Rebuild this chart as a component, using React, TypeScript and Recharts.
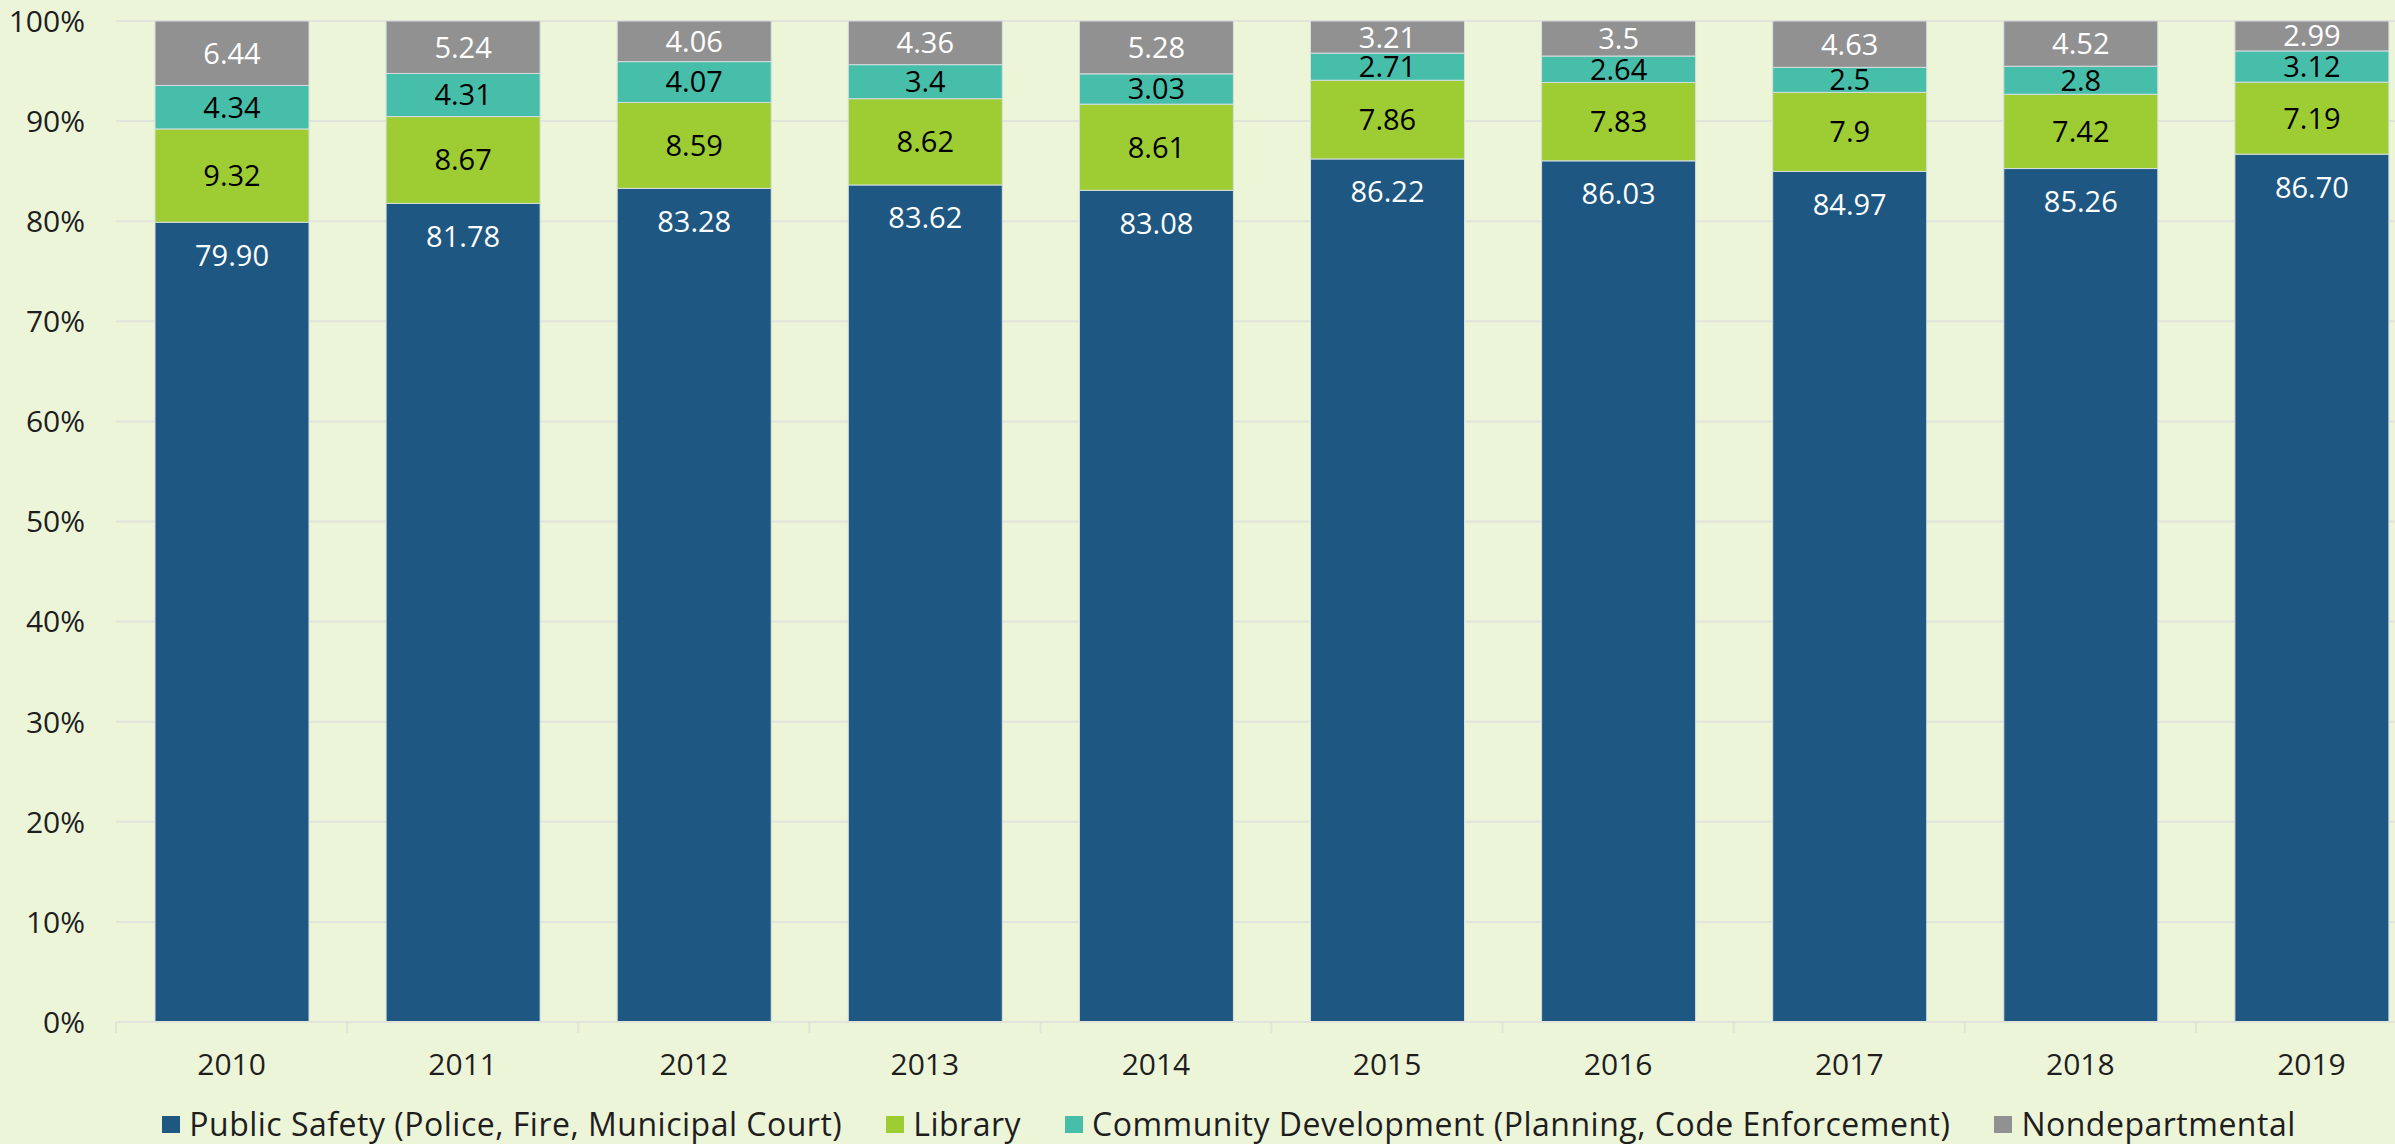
import React from "react";
import {
  Bar,
  BarChart,
  CartesianGrid,
  LabelList,
  Legend,
  XAxis,
  YAxis,
} from "recharts";

const years = ["2010", "2011", "2012", "2013", "2014", "2015", "2016", "2017", "2018", "2019"];
const publicSafety = [79.9, 81.78, 83.28, 83.62, 83.08, 86.22, 86.03, 84.97, 85.26, 86.7];
const library = [9.32, 8.67, 8.59, 8.62, 8.61, 7.86, 7.83, 7.9, 7.42, 7.19];
const communityDev = [4.34, 4.31, 4.07, 3.4, 3.03, 2.71, 2.64, 2.5, 2.8, 3.12];
const nondepartmental = [6.44, 5.24, 4.06, 4.36, 5.28, 3.21, 3.5, 4.63, 4.52, 2.99];
const yTicks = [0, 10, 20, 30, 40, 50, 60, 70, 80, 90, 100];

const data = years.map((year, i) => ({
  year,
  publicSafety: publicSafety[i],
  library: library[i],
  communityDev: communityDev[i],
  nondepartmental: nondepartmental[i],
}));

const FONT = "'Open Sans', sans-serif";
const BG = "#EDF5D9";
const GRID = "#E1E4DB";
const TEXT = "#1e1e1e";

const series = [
  { key: "publicSafety", name: "Public Safety (Police, Fire, Municipal Court)", color: "#1D5782", label: "#ffffff", top: true, fixed: true },
  { key: "library", name: "Library", color: "#9ECC33", label: "#000000", top: false, fixed: false },
  { key: "communityDev", name: "Community Development (Planning, Code Enforcement)", color: "#46BEAA", label: "#000000", top: false, fixed: false },
  { key: "nondepartmental", name: "Nondepartmental", color: "#919191", label: "#ffffff", top: false, fixed: false },
];

const makeLabel = (fill: string, top: boolean, fixed: boolean) => (props: any) => {
  const { x, y, width, height, value } = props;
  const cx = Number(x) + Number(width) / 2;
  const cy = top ? Number(y) + 33 : Number(y) + Number(height) / 2;
  const text = fixed ? Number(value).toFixed(2) : String(value);
  return (
    <text x={cx} y={cy} dy="0.36em" textAnchor="middle" fill={fill} fontSize={29} fontFamily={FONT}>
      {text}
    </text>
  );
};

const XTick = (props: any) => {
  const { x, y, payload } = props;
  const half = payload?.offset ?? 0;
  const last = payload?.index === years.length - 1;
  return (
    <g>
      <line x1={x - half} x2={x - half} y1={y} y2={y + 11} stroke={GRID} strokeWidth={2} />
      {last && <line x1={x + half} x2={x + half} y1={y} y2={y + 11} stroke={GRID} strokeWidth={2} />}
      <text x={x} y={y + 42} dy="0.36em" textAnchor="middle" fill={TEXT} fontSize={30} fontFamily={FONT}>
        {payload.value}
      </text>
    </g>
  );
};

const YTick = (props: any) => {
  const { y, payload } = props;
  return (
    <text x={85} y={y} dy="0.36em" textAnchor="end" fill={TEXT} fontSize={30} fontFamily={FONT}>
      {payload.value}%
    </text>
  );
};

const ChartLegend = () => (
  <div
    style={{
      display: "flex",
      justifyContent: "center",
      alignItems: "center",
      gap: 44,
      fontFamily: FONT,
      fontSize: 32,
      letterSpacing: 0.5,
      lineHeight: "40px",
      color: TEXT,
      whiteSpace: "nowrap",
    }}
  >
    {series.map((s) => (
      <div key={s.key} style={{ display: "flex", alignItems: "center", gap: 9 }}>
        <span style={{ display: "inline-block", width: 18, height: 17, background: s.color }} />
        <span>{s.name}</span>
      </div>
    ))}
  </div>
);

export default function App() {
  return (
    <div
      style={{
        position: "fixed",
        left: 0,
        top: 0,
        width: 2395,
        height: 1144,
        overflow: "hidden",
        background: BG,
      }}
    >
      <BarChart
        width={2440}
        height={1144}
        data={data}
        margin={{ top: 21, right: 13, bottom: 0, left: 0 }}
        barSize={154}
      >
        <CartesianGrid vertical={false} stroke={GRID} strokeWidth={2} />
        <XAxis
          dataKey="year"
          height={122}
          tickSize={0}
          tickMargin={0}
          axisLine={{ stroke: GRID, strokeWidth: 2 }}
          tickLine={false}
          tick={<XTick />}
          interval={0}
        />
        <YAxis
          width={116}
          domain={[0, 100]}
          ticks={yTicks}
          axisLine={false}
          tickLine={false}
          tickSize={0}
          tick={<YTick />}
          interval={0}
        />
        <Legend
          layout="horizontal"
          verticalAlign="middle"
          align="center"
          wrapperStyle={{ top: 1104, left: 0, width: 2458, height: 40 }}
          content={<ChartLegend />}
        />
        {series.map((s) => (
          <Bar
            key={s.key}
            dataKey={s.key}
            name={s.name}
            stackId="a"
            fill={s.color}
            stroke="#D6DEDF"
            strokeWidth={1}
            isAnimationActive={false}
          >
            <LabelList dataKey={s.key} content={makeLabel(s.label, s.top, s.fixed)} />
          </Bar>
        ))}
      </BarChart>
    </div>
  );
}
